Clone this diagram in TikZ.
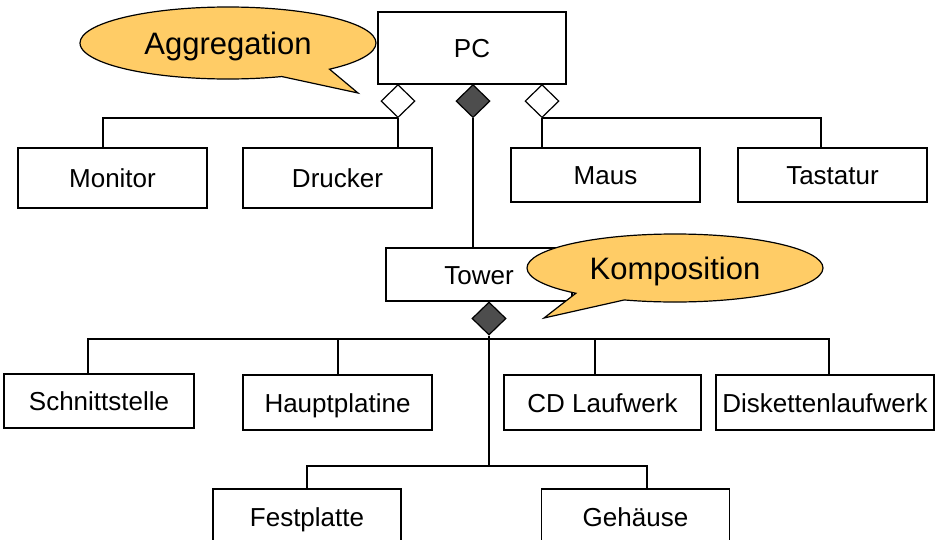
\documentclass[tikz,border=0pt]{standalone}
\usepackage{fontspec}
\setmainfont{Liberation Sans}
\usetikzlibrary{shapes.geometric,shapes.callouts}
\definecolor{callfill}{RGB}{255,204,102}
\definecolor{darkdia}{RGB}{77,77,77}
\begin{document}
\begin{tikzpicture}[x=1pt,y=-1pt,
  box/.style={draw=black,line width=1.2pt,fill=white,rectangle,inner sep=0pt,
    text height=19.5pt,text depth=0pt,
    font=\fontsize{26}{30}\selectfont},
  opendia/.style={draw=black,line width=1.2pt,fill=white,diamond,inner sep=0pt,
    minimum width=34pt,minimum height=33pt},
  filldia/.style={opendia,fill=darkdia},
  conn/.style={draw=black,line width=2.2pt},
  thinconn/.style={draw=black,line width=1.2pt},
  bubble/.style={ellipse callout,draw=black,line width=1.2pt,fill=callfill,
    inner sep=0pt,callout pointer arc=22,text height=23pt,text depth=0pt,
    font=\fontsize{31}{36}\selectfont}]
\useasboundingbox (0,0) rectangle (935,539);

% top level
\node[box,minimum width=188pt,minimum height=72pt] (pc) at (472,48) {PC};
\node[box,minimum width=189pt,minimum height=60pt] (monitor) at (112.5,178) {Monitor};
\node[box,minimum width=189pt,minimum height=60pt] (drucker) at (337.5,178) {Drucker};
\node[box,minimum width=189pt,minimum height=54pt] (maus) at (605.5,175) {Maus};
\node[box,minimum width=189pt,minimum height=54pt] (tastatur) at (832.5,175) {Tastatur};
\node[box,minimum width=186pt,minimum height=53pt] (tower) at (479,274.5) {Tower};

% lower level
\node[box,minimum width=190pt,minimum height=54pt] (schnitt) at (99,401) {Schnittstelle};
\node[box,minimum width=189pt,minimum height=55pt] (haupt) at (337.5,402.5) {Hauptplatine};
\node[box,minimum width=197pt,minimum height=55pt] (cd) at (602.5,402.5) {CD Laufwerk};
\node[box,minimum width=218pt,minimum height=55pt] (disk) at (825,402.5) {Diskettenlaufwerk};
\node[box,minimum width=188pt,minimum height=56pt] (fest) at (307,517) {Festplatte};
\node[box,minimum width=188pt,minimum height=56pt] (geh) at (635.5,517) {Gehäuse};

% diamonds
\node[opendia,anchor=north] (dl) at (398,84) {};
\node[filldia,anchor=north] (dc) at (473,84) {};
\node[opendia,anchor=north] (dr) at (542,84) {};
\node[filldia] (dt) at (489,318.5) {};

% named connector points
\coordinate (montop) at (103,148);
\coordinate (tasttop) at (821,148);
\coordinate (schtop) at (88,374);
\coordinate (hptop) at (338,375);
\coordinate (cdtop) at (595,375);
\coordinate (disktop) at (829,375);
\coordinate (gehtop) at (647,489);
\coordinate (bus) at (489,339);
\coordinate (lowbus) at (489,466);

% connectors top
\draw[conn] (dl.south) -| (montop);
\draw[conn] (dl.south) -- (dl.south |- drucker.north);
\draw[conn] (dr.south) -- (dr.south |- maus.north);
\draw[conn] (dr.south) -| (tasttop);
\draw[conn] (dc.south) -- (dc.south |- tower.north);

% connectors bottom
\draw[conn] (schtop) |- (bus) -| (disktop);
\draw[conn] (hptop) -- (hptop |- bus);
\draw[conn] (cdtop) -- (cdtop |- bus);
\draw[thinconn] (dt.south) -- (lowbus);
\draw[conn] (fest.north) |- (lowbus) -| (gehtop);

% callouts
\node[bubble,minimum width=296pt,minimum height=72pt,
  callout absolute pointer={(358,93)}] (agg) at (228,43) {Aggregation};
\node[bubble,minimum width=296pt,minimum height=68pt,
  callout absolute pointer={(544,318)}] (komp) at (675,268) {Komposition};
\end{tikzpicture}
\end{document}
